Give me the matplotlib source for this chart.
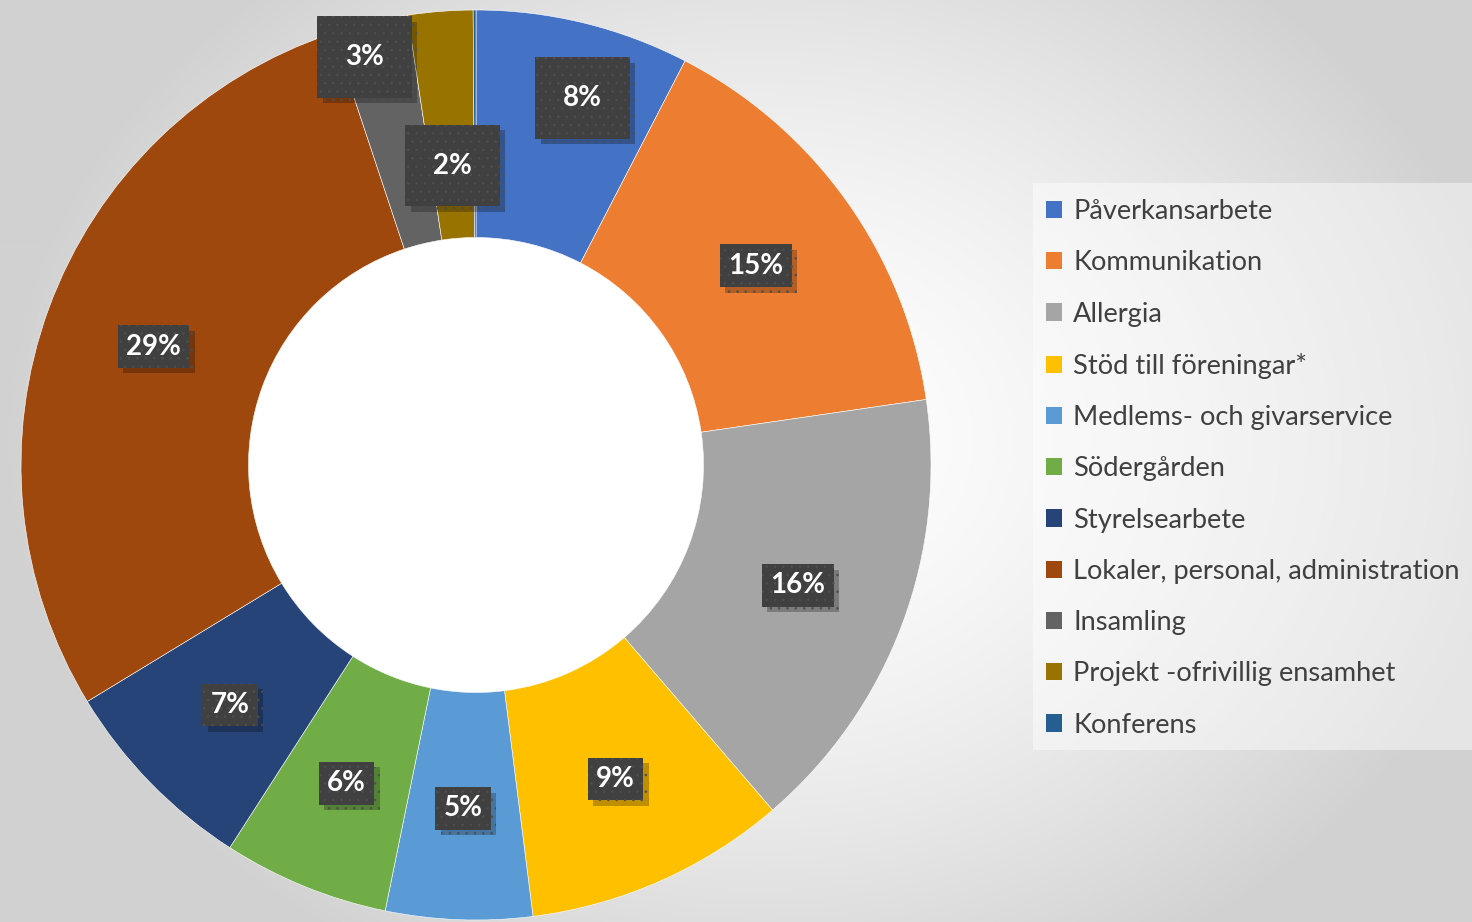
import numpy as np
import matplotlib
matplotlib.use("Agg")
import matplotlib.pyplot as plt
from matplotlib.patches import Patch, Rectangle
import matplotlib.patheffects as pe

# andelar av kostnaderna (%)
kategorier = ["Påverkansarbete", "Kommunikation", "Allergia", "Stöd till föreningar*",
              "Medlems- och givarservice", "Södergården", "Styrelsearbete",
              "Lokaler, personal, administration", "Insamling",
              "Projekt -ofrivillig ensamhet", "Konferens"]
andelar = [7.6, 15.1, 16.0, 9.3, 5.2, 5.9, 7.2, 28.6, 2.7, 2.3, 0.1]
farger = ["#4472C4", "#ED7D31", "#A5A5A5", "#FFC000", "#5B9BD5", "#70AD47",
          "#264478", "#9E480E", "#636363", "#997300", "#255E91"]

plt.rcParams['font.family'] = ['Lato', 'DejaVu Sans']
plt.rcParams['hatch.linewidth'] = 0.6

W, H = 1472, 922
fig = plt.figure(figsize=(W / 100, H / 100), dpi=100)

# bakgrund: radiell gradient
bg = fig.add_axes([0, 0, 1, 1], zorder=-10)
yy, xx = np.mgrid[0:H, 0:W]
cx, cy = 760, 440
r = np.clip(np.sqrt(((xx - cx) / 760.0) ** 2 + ((yy - cy) / 600.0) ** 2), 0, 1)
v = (255 - 46 * r ** 1.6) / 255.0
bg.imshow(np.dstack([v, v, v]), aspect='auto', extent=[0, W, H, 0])
# ljus ruta bakom förklaringen
bg.add_patch(Rectangle((1033, 183), W - 1033, 750 - 183, facecolor='white',
                       alpha=0.45, edgecolor='none'))
bg.set_xlim(0, W)
bg.set_ylim(H, 0)
bg.axis('off')

# munk-diagram
R = 455
ax = fig.add_axes([(476 - R) / W, (H - 465 - R) / H, 2 * R / W, 2 * R / H])
wedges, _ = ax.pie(andelar, colors=farger, startangle=90, counterclock=False,
                   radius=1.0, wedgeprops=dict(width=0.5, edgecolor='white', linewidth=0.4))
ax.add_patch(plt.Circle((0, 0), 0.5, facecolor='white', edgecolor='none', zorder=0))
ax.set_xlim(-1, 1)
ax.set_ylim(-1, 1)
ax.set_aspect('equal')
ax.axis('off')

# etiketter: (radie, vinkelförskjutning i grader, stor ruta)
placering = {0: (0.84, 2.5, True), 8: (0.93, -1.8, True), 9: (0.66, 0.0, True)}
kum = np.cumsum([0] + andelar)
tot = sum(andelar)
for i, a in enumerate(andelar):
    if a < 1:
        continue
    mitt = (kum[i] + kum[i + 1]) / 2 / tot * 360
    rad, dv, stor = placering.get(i, (0.755, 0.0, False))
    vink = np.deg2rad(90 - mitt - dv)
    x, y = rad * np.cos(vink), rad * np.sin(vink)
    pad = 1.0 if stor else 0.3
    t = ax.text(x, y, f"{a:.0f}%", ha='center', va='center', fontsize=20,
                fontweight='bold', color='white',
                bbox=dict(boxstyle=f'square,pad={pad}', facecolor='#404040',
                          edgecolor='#4e4e4e', linewidth=0, hatch='..'))
    t.get_bbox_patch().set_path_effects(
        [pe.SimplePatchShadow(offset=(4, -4), shadow_rgbFace='black', alpha=0.25), pe.Normal()])

handles = [Patch(facecolor=c, edgecolor='none') for c in farger]
leg = fig.legend(handles, kategorier, loc='upper left',
                 bbox_to_anchor=(1046 / W, 1 - 199 / H), frameon=False,
                 fontsize=19.6, labelcolor='#404040', handlelength=0.6, handleheight=0.6,
                 handletextpad=0.4, labelspacing=0.965, borderpad=0.0, borderaxespad=0)

fig.savefig("out.png", dpi=100)
